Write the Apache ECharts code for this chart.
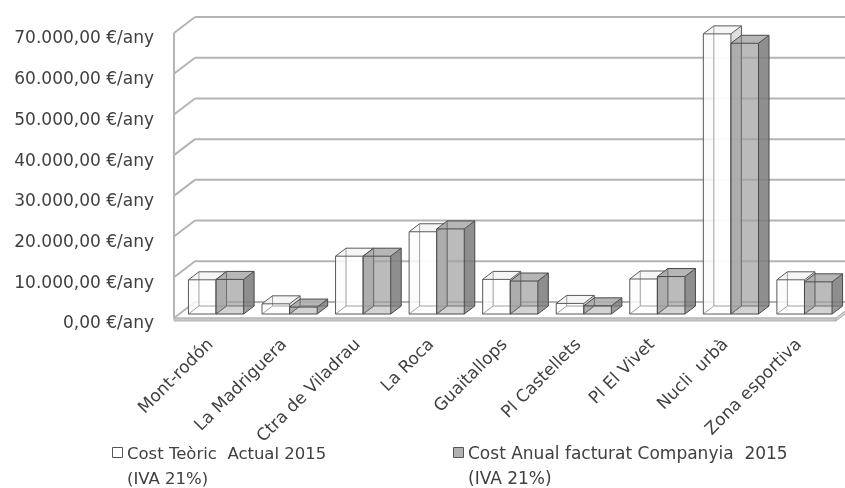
<!DOCTYPE html>
<html>
<head>
<meta charset="utf-8">
<script src="https://cdn.jsdelivr.net/npm/echarts@6/dist/echarts.min.js"></script>
<style>
  html, body { margin: 0; padding: 0; background: #fff; }
  #chart { width: 845px; height: 488px; }
</style>
</head>
<body>
<div id="chart"></div>
<script>
// Sites and yearly lighting cost (EUR/year, VAT 21% included)
const categories = ['Mont-rodón', 'La Madriguera', 'Ctra de Viladrau', 'La Roca', 'Guaitallops',
                    'Pl Castellets', 'Pl El Vivet', 'Nucli  urbà', 'Zona esportiva'];
const costTeoric   = [8400, 2500, 14200, 20200, 8500, 2600, 8600, 68800, 8400];
const costFacturat = [8500, 1700, 14200, 20900, 8100, 2000, 9200, 66500, 7900];
const yTicks = [0, 10000, 20000, 30000, 40000, 50000, 60000, 70000];
const seriesNames = ['Cost Teòric  Actual 2015\n(IVA 21%)', 'Cost Anual facturat Companyia  2015\n(IVA 21%)'];

const FONT = 'DejaVu Sans';
const TEXT = '#404040';
// depth of the 3D box (wall thickness) in pixels
const DX = 21, DY = 16;

function fmtEuro(v) {
  const intPart = Math.round(v).toString().replace(/\B(?=(\d{3})+(?!\d))/g, '.');
  return intPart + ',00 €/any';
}

const chart = echarts.init(document.getElementById('chart'), null, { renderer: 'canvas' });

// Walls, floor and grid lines of the 3D frame
function renderFrame(params, api) {
  const v = api.value(0);
  const cs = params.coordSys;
  const xL = cs.x, xR = cs.x + cs.width;
  const y = api.coord([0, v])[1];
  const grid = { stroke: '#b4b4b4', lineWidth: 2 };
  const children = [];
  if (v === 0) {
    // floor slab
    children.push({ type: 'polygon', shape: { points: [[xL, y], [xR, y], [xR + DX, y - DY], [xL + DX, y - DY]] },
      style: { fill: '#ffffff', stroke: '#c4c4c4', lineWidth: 1 } });
    children.push({ type: 'polygon', shape: { points: [[xL, y], [xR, y], [xR, y + 3], [xL, y + 3]] },
      style: { fill: '#c8c8c8', stroke: '#b0b0b0', lineWidth: 1 } });
    children.push({ type: 'polygon', shape: { points: [[xR, y], [xR + DX, y - DY], [xR + DX, y - DY + 3], [xR, y + 3]] },
      style: { fill: '#d0d0d0', stroke: '#b0b0b0', lineWidth: 1 } });
  }
  children.push({ type: 'line', shape: { x1: xL, y1: y, x2: xL + DX, y2: y - DY }, style: grid });
  children.push({ type: 'line', shape: { x1: xL + DX, y1: y - DY, x2: xR + DX + 40, y2: y - DY }, style: grid });
  if (v === yTicks[yTicks.length - 1]) {
    const y0 = api.coord([0, 0])[1];
    children.push({ type: 'line', shape: { x1: xL, y1: y, x2: xL, y2: y0 }, style: grid });
  }
  return { type: 'group', children: children };
}

// 3D box for one bar; slot 0 = left bar of the pair, slot 1 = right bar
function makeBarRenderer(slot, look) {
  return function (params, api) {
    const i = api.value(0), v = api.value(1);
    const base = api.coord([i, 0]);
    const top = api.coord([i, v]);
    const band = api.size([1, 0])[0];
    const bw = band * 0.375;
    const fx = DX * 0.25, fy = DY * 0.25;
    const bx = DX * 0.5, by = DY * 0.5;
    const x0 = base[0] - band * 0.375 + slot * bw + fx;
    const x1 = x0 + bw;
    const yB = base[1] - fy, yT = top[1] - fy;
    const F = { tl: [x0, yT], tr: [x1, yT], br: [x1, yB], bl: [x0, yB] };
    const B = { tl: [x0 + bx, yT - by], tr: [x1 + bx, yT - by], br: [x1 + bx, yB - by], bl: [x0 + bx, yB - by] };
    const poly = (pts, fill) => ({ type: 'polygon', shape: { points: pts }, style: { fill: fill, stroke: null } });
    const edge = (a, b, c, w) => ({ type: 'line', shape: { x1: a[0], y1: a[1], x2: b[0], y2: b[1] }, style: { stroke: c, lineWidth: w || 1 } });
    return {
      type: 'group',
      children: [
        poly([B.tl, B.tr, B.br, B.bl], look.back),
        poly([F.tl, B.tl, B.bl, F.bl], look.left),
        poly([F.tl, F.tr, F.br, F.bl], look.front),
        poly([F.tr, B.tr, B.br, F.br], look.side),
        poly([F.tl, F.tr, B.tr, B.tl], look.top),
        // edges hidden behind the faces
        edge(B.tl, B.bl, look.hidden), edge(B.bl, B.br, look.hidden), edge(F.bl, B.bl, look.hidden),
        // visible edges
        edge(F.tl, F.tr, look.edge), edge(F.tr, F.br, look.edge), edge(F.br, F.bl, look.edge), edge(F.bl, F.tl, look.edge),
        edge(F.tl, B.tl, look.edge), edge(B.tl, B.tr, look.edge), edge(F.tr, B.tr, look.edge),
        edge(B.tr, B.br, look.edge), edge(F.br, B.br, look.edge)
      ]
    };
  };
}

const whiteLook = {
  back: 'rgba(255,255,255,0.7)', left: 'rgba(225,225,225,0.45)', front: 'rgba(255,255,255,0.75)',
  side: 'rgba(215,215,215,0.8)', top: 'rgba(245,245,245,0.9)', edge: '#5a5a5a', hidden: '#a0a0a0'
};
const greyLook = {
  back: 'rgba(150,150,150,0.45)', left: 'rgba(100,100,100,0.35)', front: 'rgba(165,165,165,0.5)',
  side: 'rgba(120,120,120,0.75)', top: 'rgba(175,175,175,0.8)', edge: '#4a4a4a', hidden: '#707070'
};

const option = {
  backgroundColor: '#ffffff',
  animation: false,
  grid: { left: 174, right: 9, top: 33, bottom: 170, containLabel: false },
  xAxis: {
    type: 'category',
    data: categories,
    axisLine: { show: false },
    axisTick: { show: false },
    splitLine: { show: false },
    axisLabel: { interval: 0, rotate: 45, margin: 24, color: TEXT, fontFamily: FONT, fontSize: 17 }
  },
  yAxis: {
    type: 'value',
    min: 0, max: 70000, interval: 10000,
    axisLine: { show: false },
    axisTick: { show: false },
    splitLine: { show: false },
    axisLabel: { margin: 20, color: TEXT, fontFamily: FONT, fontSize: 17,
                 verticalAlign: 'top', lineHeight: 12, formatter: fmtEuro }
  },
  series: [
    { type: 'custom', name: 'frame', renderItem: renderFrame, data: yTicks.map(v => [v]),
      encode: { y: 0 }, silent: true, z: 1 },
    { type: 'custom', name: seriesNames[0], renderItem: makeBarRenderer(0, whiteLook),
      data: costTeoric.map((v, i) => [i, v]), encode: { x: 0, y: 1 }, z: 2 },
    { type: 'custom', name: seriesNames[1], renderItem: makeBarRenderer(1, greyLook),
      data: costFacturat.map((v, i) => [i, v]), encode: { x: 0, y: 1 }, z: 3 }
  ],
  graphic: [
    { type: 'rect', left: 112, top: 447, shape: { width: 10, height: 10 },
      style: { fill: '#ffffff', stroke: '#555555', lineWidth: 1 } },
    { type: 'text', left: 127, top: 442,
      style: { text: seriesNames[0], fill: TEXT, font: '16.5px "DejaVu Sans"', lineHeight: 25 } },
    { type: 'rect', left: 453, top: 447, shape: { width: 10, height: 10 },
      style: { fill: '#b0b0b0', stroke: '#555555', lineWidth: 1 } },
    { type: 'text', left: 468, top: 442,
      style: { text: seriesNames[1], fill: TEXT, font: '17px "DejaVu Sans"', lineHeight: 25 } }
  ]
};

chart.setOption(option);
</script>
</body>
</html>
